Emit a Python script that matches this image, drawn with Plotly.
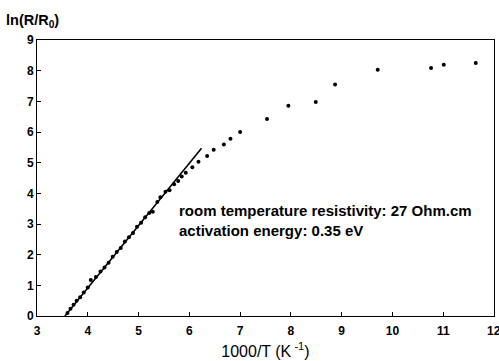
import plotly.graph_objects as go

# measured points (1000/T, ln(R/R0))
x_dense = [3.60, 3.66, 3.72, 3.78, 3.85, 3.92, 4.00, 4.06, 4.16, 4.25, 4.33, 4.41,
           4.49, 4.57, 4.65, 4.73, 4.81, 4.89, 4.97, 5.05, 5.13, 5.21, 5.28, 5.37,
           5.43, 5.53, 5.61, 5.70, 5.78, 5.85]
y_dense = [0.10, 0.24, 0.37, 0.50, 0.61, 0.77, 0.93, 1.17, 1.27, 1.45, 1.58, 1.74,
           1.93, 2.09, 2.22, 2.43, 2.57, 2.71, 2.91, 3.04, 3.22, 3.36, 3.40, 3.72,
           3.87, 4.05, 4.10, 4.30, 4.40, 4.55]
x_sparse = [5.93, 6.06, 6.18, 6.35, 6.48, 6.68, 6.81, 7.00, 7.53, 7.95, 8.49,
            8.87, 9.71, 10.76, 11.01, 11.64]
y_sparse = [4.67, 4.85, 5.03, 5.22, 5.42, 5.59, 5.78, 6.00, 6.42, 6.86, 6.98,
            7.55, 8.03, 8.09, 8.19, 8.25]

# fitted straight line (end points)
fit_x = [3.55, 6.24]
fit_y = [0.0, 5.47]

x_ticks = [3, 4, 5, 6, 7, 8, 9, 10, 11, 12]
y_ticks = [0, 1, 2, 3, 4, 5, 6, 7, 8, 9]

annot_lines = ["room temperature resistivity: 27 Ohm.cm", "activation energy: 0.35 eV"]

FONT = "Liberation Sans"
TICKFONT = dict(family=FONT, size=12, color="black", weight="bold")

fig = go.Figure()
fig.add_trace(go.Scatter(x=fit_x, y=fit_y, mode="lines",
                         line=dict(color="black", width=1.6), showlegend=False))
fig.add_trace(go.Scatter(x=x_dense + x_sparse, y=y_dense + y_sparse, mode="markers",
                         marker=dict(color="black", size=4, symbol="circle"),
                         showlegend=False))

fig.add_annotation(x=5.75, y=3.45, xref="x", yref="y", text=annot_lines[0],
                   showarrow=False, xanchor="left", yanchor="middle",
                   font=dict(family=FONT, size=15, color="black", weight="bold"))
fig.add_annotation(x=5.75, y=2.80, xref="x", yref="y", text=annot_lines[1],
                   showarrow=False, xanchor="left", yanchor="middle",
                   font=dict(family=FONT, size=15, color="black", weight="bold"))

fig.add_annotation(x=-33 / 457, y=1 + 19 / 275.7, xref="paper", yref="paper",
                   text="ln(R/R<sub>0</sub>)", showarrow=False,
                   xanchor="left", yanchor="middle",
                   font=dict(family=FONT, size=14.5, color="black", weight="bold"))

# last x tick label sits at the right edge (partly cut, as in the original)
x_labels = [str(v) for v in x_ticks]
fig.add_annotation(x=x_ticks[-1], y=-15 / 275.7, xref="x", yref="paper",
                   text=x_labels[-1], showarrow=False, xanchor="center",
                   yanchor="middle", font=TICKFONT)
x_labels[-1] = ""

axis_common = dict(showgrid=False, zeroline=False, showline=True, linecolor="black",
                   linewidth=1, mirror=True, ticks="inside", ticklen=4, tickcolor="black",
                   automargin=False, tickfont=TICKFONT)

fig.update_xaxes(range=[3, 12], tickvals=x_ticks, ticktext=x_labels,
                 ticklabelstandoff=4,
                 title=dict(text="1000/T (K<sup> -1</sup>)", standoff=8,
                            font=dict(family=FONT, size=16, color="black")),
                 **axis_common)
fig.update_yaxes(range=[0, 9], tickvals=y_ticks, ticktext=[str(v) for v in y_ticks],
                 **axis_common)

fig.update_layout(width=499, height=361, margin=dict(l=37, r=5, t=40, b=45),
                  plot_bgcolor="white", paper_bgcolor="white",
                  font=dict(family=FONT, color="black"))

# remove the page's default body margin so the figure sits at the window origin
fig.write_html("out.html", config={"displayModeBar": False},
               post_script="document.body.style.margin='0';document.body.style.overflow='hidden';")
